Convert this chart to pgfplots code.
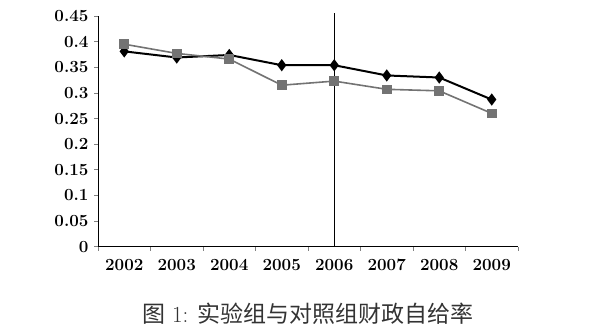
\documentclass[border=0pt]{standalone}
\usepackage{fontspec}
\usepackage{pgfplots}
\pgfplotsset{compat=1.18}
\newfontfamily\cjk{Noto Sans CJK SC}
\begin{document}
\begin{tikzpicture}[x=1pt,y=1pt]
\useasboundingbox (0,0) rectangle (595,334);
\begin{axis}[
  at={(98pt,87.3pt)}, anchor=south west,
  scale only axis, width=420pt, height=230.7pt,
  xmin=-0.5, xmax=7.5, ymin=0, ymax=0.45,
  axis x line=bottom, axis y line=left,
  axis line style={-, line width=0.8pt},
  xtick={0,...,7},
  xticklabels={2002,2003,2004,2005,2006,2007,2008,2009},
  major x tick style={draw=none},
  minor xtick={-0.5,0.5,...,7.5},
  minor x tick style={line width=0.6pt},
  minor tick length=4pt,
  ytick={0,0.05,0.1,0.15,0.2,0.25,0.3,0.35,0.4,0.45},
  yticklabels={0,0.05,0.1,0.15,0.2,0.25,0.3,0.35,0.4,0.45},
  major tick length=4pt,
  tick align=outside,
  y tick style={line width=0.6pt},
  tick label style={font=\bfseries\fontsize{17}{19}\selectfont},
  xticklabel style={yshift=-5pt},
  yticklabel style={xshift=-2pt},
  clip=false,
]
\addplot[black, line width=2pt, mark=diamond*, mark size=4.5pt, mark options={solid, fill=black}]
  coordinates {(0,0.381) (1,0.369) (2,0.374) (3,0.354) (4,0.354) (5,0.334) (6,0.330) (7,0.287)};
\addplot[black!55, line width=1.6pt, mark=square*, mark size=4pt, mark options={solid, fill=black!55}]
  coordinates {(0,0.395) (1,0.377) (2,0.366) (3,0.315) (4,0.323) (5,0.307) (6,0.304) (7,0.260)};
\draw[black, line width=0.8pt] (axis cs:4,0) -- (axis cs:4,0.455);
\end{axis}
\node[font=\fontsize{23}{25}\selectfont, text=black!80] at (308,20) {{\cjk 图} 1: {\cjk 实验组与对照组财政自给率}};
\end{tikzpicture}
\end{document}
